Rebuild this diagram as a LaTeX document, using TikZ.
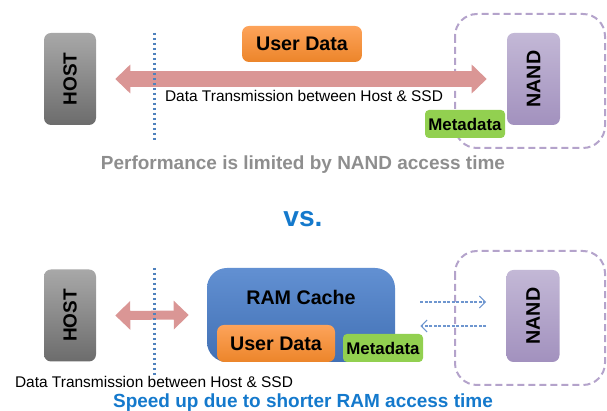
\documentclass[tikz,border=0pt]{standalone}
\usepackage{fontspec}
\usepackage{graphicx}
\setmainfont{Liberation Sans}
\usetikzlibrary{arrows.meta}
\newlength\pix
\setlength\pix{0.025cm}
\definecolor{grisH}{HTML}{A8A8A8}
\definecolor{grisB}{HTML}{6C6C6C}
\definecolor{violetH}{HTML}{C3B8D6}
\definecolor{violetB}{HTML}{A291BE}
\definecolor{violetZ}{HTML}{B4A3CB}
\definecolor{orangeH}{HTML}{FDA35A}
\definecolor{orangeB}{HTML}{EC852A}
\definecolor{vertM}{HTML}{92D050}
\definecolor{bleuH}{HTML}{6290D2}
\definecolor{bleuB}{HTML}{4170B4}
\definecolor{rose}{HTML}{DA9695}
\definecolor{bleuP}{HTML}{4F81BD}
\definecolor{bleuF}{HTML}{6E96CF}
\definecolor{bleuT}{HTML}{1479CC}
\definecolor{grisT}{HTML}{8E8E8E}
\tikzset{
  boite/.style={rounded corners=7\pix, inner sep=0pt, align=center},
  hote/.style={boite, top color=grisH, bottom color=grisB, minimum width=52\pix, minimum height=92\pix, font=\bfseries\fontsize{13.5}{14}\selectfont},
  nand/.style={boite, top color=violetH, bottom color=violetB, minimum width=53\pix, minimum height=92\pix, font=\bfseries\fontsize{14}{15}\selectfont},
  donnees/.style={boite, top color=orangeH, bottom color=orangeB, font=\bfseries\fontsize{14}{15}\selectfont},
  meta/.style={boite, rounded corners=4\pix, fill=vertM, minimum width=80\pix, minimum height=28\pix, font=\bfseries\fontsize{12}{13}\selectfont},
  zone/.style={draw=violetZ, line width=2\pix, dash pattern=on 7\pix off 4\pix, rounded corners=22\pix},
  grossefleche/.style={draw=rose, {Triangle[width=0.7cm,length=0.375cm]}-{Triangle[width=0.7cm,length=0.375cm]}},
  pointilles/.style={draw=bleuP, line width=3\pix, dash pattern=on 2.4\pix off 2.6\pix},
  flechefine/.style={draw=bleuF, line width=1.1\pix, dash pattern=on 3\pix off 1.5\pix, -{Straight Barb[length=0.15cm,width=0.3cm]}},
  legende/.style={font=\fontsize{11}{12}\selectfont},
  titre/.style={font=\bfseries\fontsize{13.5}{15}\selectfont}
}
\begin{document}
\begin{tikzpicture}[x=0.025cm,y=-0.025cm]
    \useasboundingbox (0,0) rectangle (607,411);
    %Haut
    \draw[zone] (455,14) rectangle (605,148); %Zone NAND haut
    \node[hote] (host1) at (70,79) {\rotatebox{90}{HOST}};
    \node[nand] (nand1) at (533.5,79) {\rotatebox{90}{NAND}};
    \draw[grossefleche, line width=0.4cm] ([xshift=19\pix]host1.east) -- ([xshift=-20\pix]nand1.west); %Fleche hote <-> SSD
    \draw[pointilles] (154,33) -- (154,141);
    \node[donnees, minimum width=120\pix, minimum height=36\pix] (udata1) at (302,44) {User Data};
    \node[legende] (trans1) at (304,96) {Data Transmission between Host \& SSD};
    \node[meta] (meta1) at (465,124) {Metadata};
    \node[titre, text=grisT] (perf) at (303,165) {Performance is limited by NAND access time};
    \node[font=\bfseries\fontsize{20}{22}\selectfont, text=bleuT] (vs) at (303,219) {vs.};
    %Bas
    \draw[zone] (455,251) rectangle (605,385); %Zone NAND bas
    \node[hote] (host2) at (70,315.5) {\rotatebox{90}{HOST}};
    \node[nand] (nand2) at (533,316) {\rotatebox{90}{NAND}};
    \node[boite, rounded corners=20\pix, top color=bleuH, bottom color=bleuB, minimum width=188\pix, minimum height=94\pix] (ram) at (301,315) {};
    \node[font=\bfseries\fontsize{14}{15}\selectfont] (ramtxt) at (301,297) {RAM Cache};
    \node[donnees, minimum width=118\pix, minimum height=37\pix] (udata2) at (276,343.5) {User Data};
    \node[meta] (meta2) at (383,348) {Metadata};
    \draw[grossefleche, line width=0.225cm] ([xshift=19\pix]host2.east) -- ([xshift=-18\pix]ram.west); %Fleche hote <-> cache
    \draw[pointilles] (154,268) -- (154,375);
    \draw[flechefine] ([xshift=25\pix,yshift=13\pix]ram.east) -- ([xshift=-20\pix,yshift=14\pix]nand2.west); %Ecriture
    \draw[flechefine] ([xshift=-20\pix,yshift=-10\pix]nand2.west) -- ([xshift=25\pix,yshift=-11\pix]ram.east); %Lecture
    \node[legende] (trans2) at (154,382) {Data Transmission between Host \& SSD};
    \node[titre, text=bleuT] (speed) at (303,403) {Speed up due to shorter RAM access time};
\end{tikzpicture}
\end{document}
